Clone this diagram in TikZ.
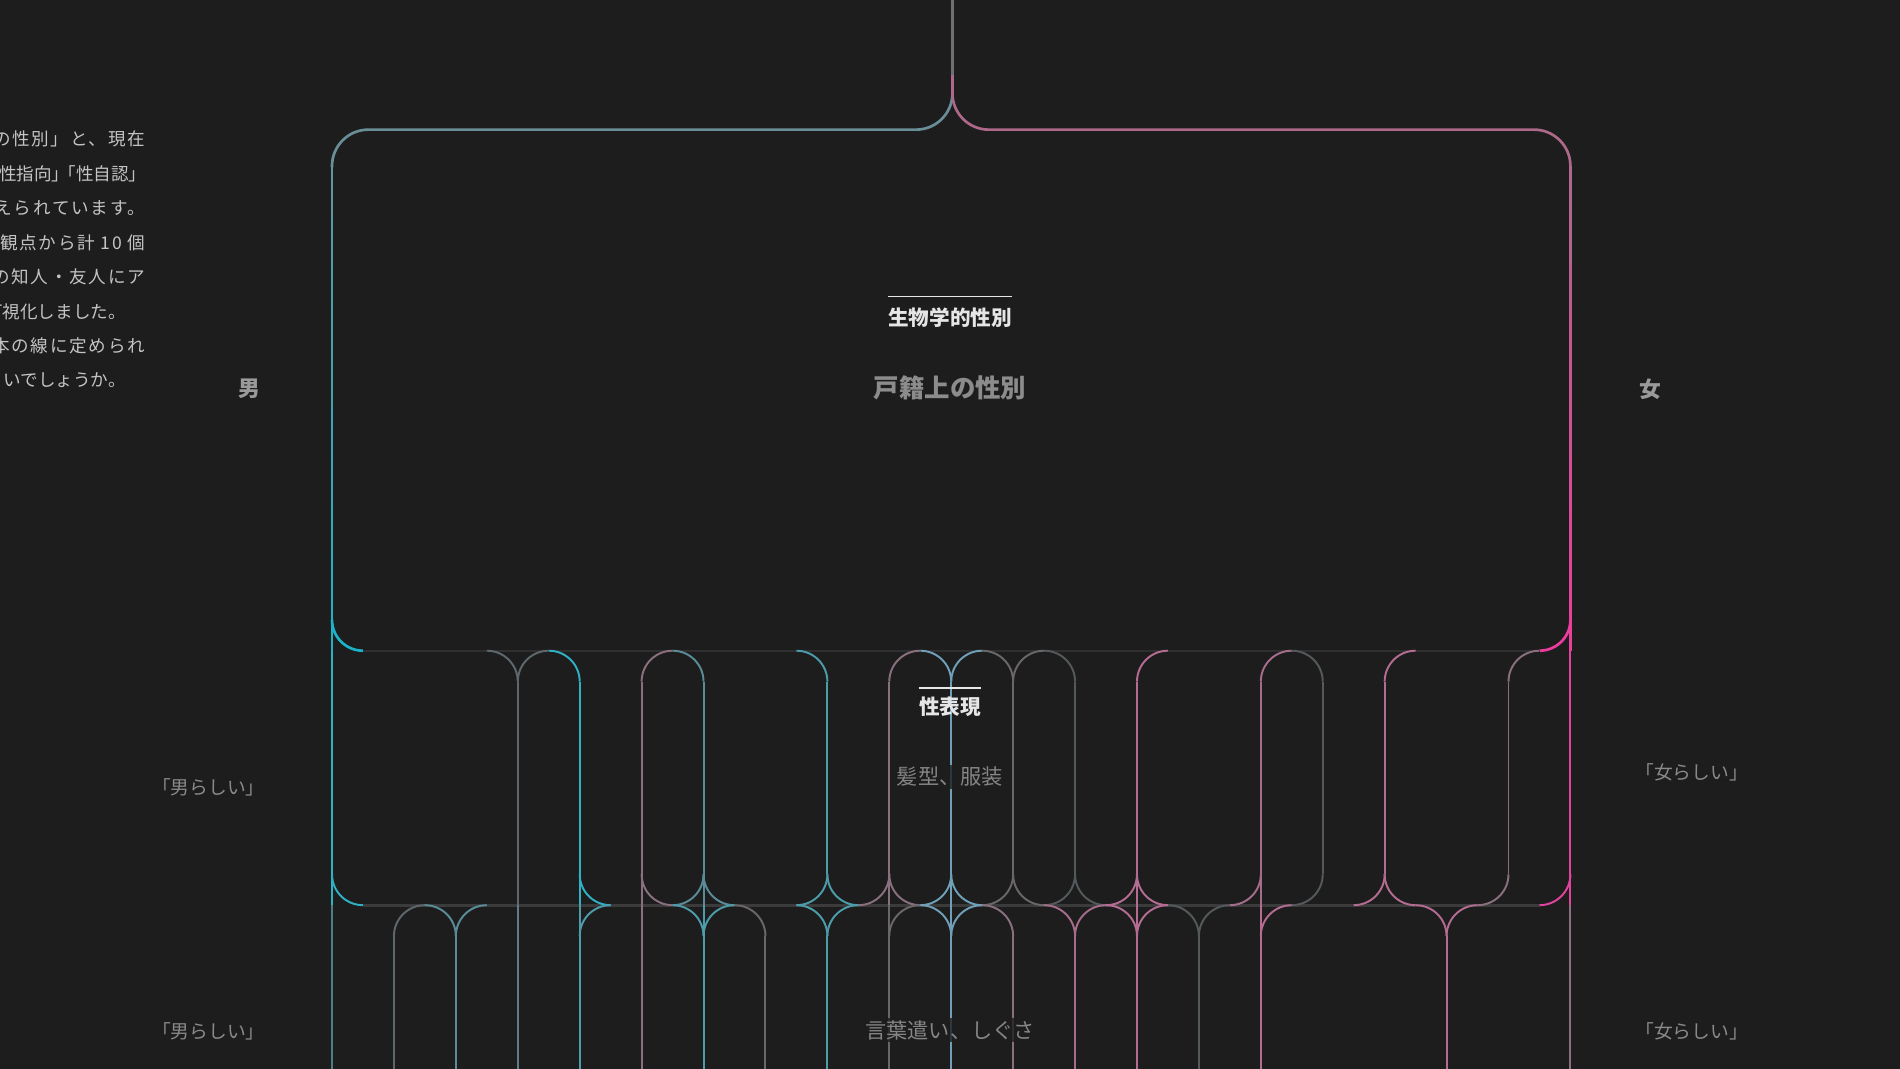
\documentclass[tikz,border=0pt]{standalone}
\usepackage{fontspec}
\setmainfont{Noto Sans CJK JP}
\newfontfamily\bodyjp{Noto Sans CJK JP}[LetterSpace=10]
\newfontfamily\tailjp{Noto Sans CJK JP}

\definecolor{bg}{HTML}{1D1D1D}
\definecolor{stemgrey}{HTML}{707070}
\definecolor{boxTL}{HTML}{6A8E98}
\definecolor{boxTR}{HTML}{AE6889}
\definecolor{boxLT}{HTML}{5C97A3}
\definecolor{boxLB}{HTML}{1CB3CA}
\definecolor{boxRT}{HTML}{B0688C}
\definecolor{boxRB}{HTML}{EE3C9E}
\definecolor{rowline}{HTML}{2F2F2F}
\definecolor{rowlineB}{HTML}{3B3B3B}
\definecolor{tealA}{HTML}{2FB1C4}
\definecolor{tealB}{HTML}{4C9CAA}
\definecolor{tealC}{HTML}{5A8C98}
\definecolor{tealD}{HTML}{4D7E88}
\definecolor{slate}{HTML}{5F7C8A}
\definecolor{blueB}{HTML}{6FA0B8}
\definecolor{greyA}{HTML}{5E676C}
\definecolor{greyB}{HTML}{54595C}
\definecolor{greyC}{HTML}{6A6669}
\definecolor{mauve}{HTML}{8A707F}
\definecolor{pinkA}{HTML}{A56D8B}
\definecolor{pinkB}{HTML}{B46C93}
\definecolor{pinkE}{HTML}{E2449D}
\definecolor{paragrey}{HTML}{C4C4C4}
\definecolor{sexgrey}{HTML}{9A9A9A}
\definecolor{headwhite}{HTML}{E6E6E6}
\definecolor{kosekigrey}{HTML}{8C8C8C}
\definecolor{aspectgrey}{HTML}{858585}
\definecolor{likegrey}{HTML}{8A8A8A}

% quarter turn of a lane: lane #1, row line #2, side #3 (-1 left, 1 right), #4 (1 down, -1 up), colour #5
\newcommand{\rr}{25.5}
\newcommand{\laneturn}[5]{%
  \draw[lane,#5,rounded corners=\rr pt] ({gx(#1)+(#3)*\rr},#2) -- ({gx(#1)},#2) -- ({gx(#1)},{#2+(#4)*\rr});}

\begin{document}
\begin{tikzpicture}[x=1pt, y=-1pt,
    declare function={gx(\n)=274+51.1*\n;},
    lane/.style={line width=1.6pt},
    frame/.style={line width=2.2pt},
    para/.style={anchor=east, inner sep=0pt, text=paragrey, font=\bodyjp\fontsize{14.5}{17}\selectfont},
    paratail/.style={para, font=\tailjp\fontsize{14.5}{17}\selectfont},
    sexlabel/.style={text=sexgrey, font=\bfseries\fontsize{18}{20}\selectfont},
    likeness/.style={text=likegrey, font=\fontsize{15.5}{18}\selectfont},
    heading/.style={inner sep=0pt, text=headwhite, font=\bfseries\fontsize{17}{20}\selectfont},
    aspect/.style={inner sep=2pt, fill=bg, fill opacity=0.8, text opacity=1, text=aspectgrey, font=\fontsize{17.5}{20}\selectfont},
    overline/.style={draw=headwhite, line width=1.3pt}]

\fill[bg] (0,0) rectangle (1568,882);
\useasboundingbox (0,0) rectangle (1568,882);

% stem and the two branches
\draw[frame, line width=2.6pt, stemgrey] (786,0) -- (786,64);
\draw[frame, boxTL, rounded corners=30pt] (786,62) -- (786,107) -- (274,107) -- (274,138);
\draw[frame, boxTR, rounded corners=30pt] (786,62) -- (786,107) -- (1296,107) -- (1296,138);

% sides of the registered-sex box
\foreach \k [evaluate=\k as \p using int(100-10*\k)] in {0,...,9}{
  \draw[frame, boxLT!\p!boxLB] (274,{137+40*\k}) -- (274,{137+40*(\k+1)});
  \draw[frame, boxRT!\p!boxRB] (1296,{137+40*\k}) -- (1296,{137+40*(\k+1)});
}
\laneturn{0}{537}{1}{-1}{boxLB,frame}
\laneturn{20}{537}{-1}{-1}{boxRB,frame}

% row lines
\draw[rowline, line width=1.5pt] (299.5,537) -- (1270.5,537);
\draw[rowlineB, line width=2.5pt] (299.5,747) -- (1270.5,747);

% row 2: expression
\foreach \i/\a/\b/\c in {0/537/747/tealA, 3/562.5/747/greyA, 4/562.5/747/tealA, 5/562.5/747/mauve,
    6/562.5/747/tealC, 8/562.5/721.5/tealB, 9/562.5/747/mauve, 10/562.5/747/blueB,
    11/562.5/721.5/greyC, 12/562.5/721.5/greyB, 13/562.5/747/pinkB, 15/562.5/747/pinkA,
    16/562.5/721.5/greyB, 17/562.5/721.5/pinkB, 19/562.5/721.5/mauve, 20/537/747/pinkE}
  \draw[lane,\c] ({gx(\i)},\a) -- ({gx(\i)},\b);
\foreach \i/\c in {3/greyA, 4/tealA, 6/tealC, 8/tealB, 10/blueB, 11/greyC, 12/greyB, 16/greyB}
  {\laneturn{\i}{537}{-1}{1}{\c}}
\foreach \i/\c in {3/greyA, 5/mauve, 9/mauve, 10/blueB, 11/greyC, 13/pinkB, 15/pinkA, 17/pinkB, 19/mauve}
  {\laneturn{\i}{537}{1}{1}{\c}}
\foreach \i/\c in {0/tealA, 4/tealA, 5/mauve, 6/tealC, 8/tealB, 9/mauve, 10/blueB, 11/greyC, 12/greyB, 13/pinkB, 17/pinkB}
  {\laneturn{\i}{747}{1}{-1}{\c}}
\foreach \i/\c in {6/tealC, 8/tealB, 9/mauve, 10/blueB, 11/greyC, 12/greyB, 13/pinkB, 15/pinkA, 16/greyB, 17/pinkB, 19/mauve, 20/pinkE}
  {\laneturn{\i}{747}{-1}{-1}{\c}}

% row 3: manner
\foreach \i/\a/\c in {0/747/tealD, 1/772.5/greyA, 2/772.5/tealC, 3/747/slate, 4/747/tealB, 5/747/mauve,
    6/747/tealB, 7/772.5/greyC, 8/772.5/tealB, 9/747/greyC, 10/747/blueB, 11/772.5/mauve,
    12/772.5/pinkA, 13/747/pinkB, 14/772.5/greyB, 15/747/pinkB, 18/772.5/pinkB, 20/747/mauve}
  \draw[lane,\c] ({gx(\i)},\a) -- ({gx(\i)},890);
\foreach \i/\c in {2/tealC, 6/tealB, 7/greyC, 8/tealB, 10/blueB, 11/mauve, 12/pinkA, 13/pinkB, 14/greyB, 18/pinkB}
  {\laneturn{\i}{747}{-1}{1}{\c}}
\foreach \i/\c in {1/greyA, 2/tealC, 4/tealB, 6/tealB, 8/tealB, 9/greyC, 10/blueB, 12/pinkA, 13/pinkB, 14/greyB, 15/pinkB, 18/pinkB}
  {\laneturn{\i}{747}{1}{1}{\c}}

% intro text, cut by the left edge
\node[para] (intro1) at (120,115) {の性別」と、現在};
\node[paratail] (intro2) at (121,143.4) {性指向」\kern-9pt「性自認」};
\node[para] (intro3) at (120,171.8) {考えられています。};
\node[para] (intro4) at (120,200.2) {観点から計 10 個};
\node[para] (intro5) at (120,228.6) {の知人・友人にア};
\node[paratail] (intro6) at (104,257) {可視化しました。};
\node[para] (intro7) at (120,285.4) {本の線に定められ};
\node[paratail] (intro8) at (104,313.8) {いでしょうか。};

% labels
\node[sexlabel] (male) at (206,321) {男};
\node[sexlabel] (female) at (1362,321) {女};
\node[heading] (bio) at (784,262) {生物学的性別};
\draw[overline] ([yshift=9pt]bio.north west) -- ([yshift=9pt]bio.north east);
\node[text=kosekigrey, font=\bfseries\fontsize{21}{24}\selectfont] (koseki) at (784,320) {戸籍上の性別};
\node[heading] (expr) at (784,583) {性表現};
\draw[overline] ([yshift=7pt]expr.north west) -- ([yshift=7pt]expr.north east);
\node[aspect] (dress) at (784,641) {髪型、服装};
\node[aspect] (manner) at (784,850) {言葉遣い、しぐさ};
\node[likeness] (masc1) at (172,650) {「男らしい」};
\node[likeness] (masc2) at (172,851) {「男らしい」};
\node[likeness] (fem1) at (1396,637) {「女らしい」};
\node[likeness] (fem2) at (1396,851) {「女らしい」};
\end{tikzpicture}
\end{document}
